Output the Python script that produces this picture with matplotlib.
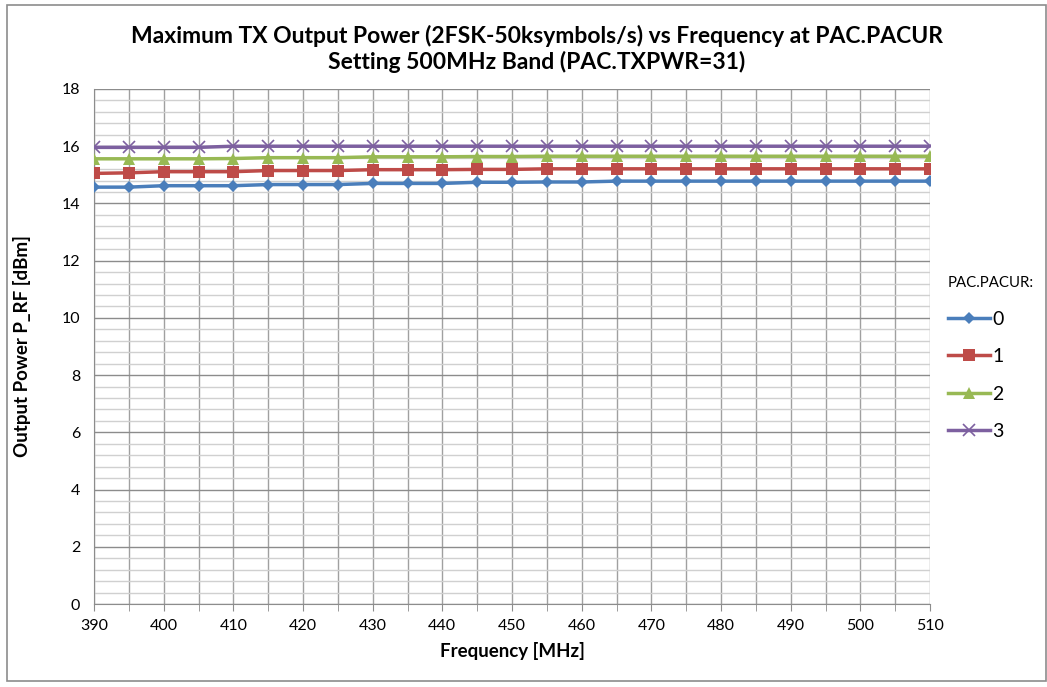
import numpy as np
import matplotlib.pyplot as plt
from matplotlib.patches import Rectangle
from matplotlib.ticker import MultipleLocator

plt.rcParams['font.family'] = ['Lato', 'DejaVu Sans']

freq = list(range(390, 511, 5))

pacur_0 = [14.57, 14.57, 14.62, 14.62, 14.62, 14.66, 14.66, 14.66, 14.70, 14.70,
           14.70, 14.74, 14.74, 14.75, 14.75, 14.78, 14.78, 14.78, 14.78, 14.78,
           14.78, 14.78, 14.78, 14.78, 14.78]
pacur_1 = [15.05, 15.07, 15.11, 15.11, 15.11, 15.15, 15.15, 15.15, 15.18, 15.18,
           15.18, 15.19, 15.19, 15.21, 15.21, 15.21, 15.21, 15.21, 15.21, 15.21,
           15.21, 15.21, 15.21, 15.21, 15.21]
pacur_2 = [15.56, 15.56, 15.56, 15.56, 15.57, 15.60, 15.60, 15.60, 15.63, 15.63,
           15.63, 15.64, 15.64, 15.65, 15.65, 15.65, 15.65, 15.65, 15.65, 15.65,
           15.65, 15.65, 15.65, 15.65, 15.65]
pacur_3 = [15.96, 15.96, 15.96, 15.96, 16.0, 16.0, 16.0, 16.0, 16.0, 16.0,
           16.0, 16.0, 16.0, 16.0, 16.0, 16.0, 16.0, 16.0, 16.0, 16.0,
           16.0, 16.0, 16.0, 16.0, 16.0]

series = [
    ("0", pacur_0, "#4a7ebb", "D", 6),
    ("1", pacur_1, "#be4b48", "s", 9),
    ("2", pacur_2, "#98b954", "^", 9),
    ("3", pacur_3, "#7d60a0", "x", 9),
]

W, H = 1047, 687
fig = plt.figure(figsize=(W / 100, H / 100), dpi=100)
ax = fig.add_axes([94 / W, 1 - 604 / H, (930 - 94) / W, (604 - 89) / H])

# chart area border
fig.patches.append(Rectangle((7 / W, 6 / H), (W - 8) / W, (H - 11) / H,
                             transform=fig.transFigure, fill=False,
                             edgecolor="#8c8c8c", linewidth=1.2))

for name, vals, color, marker, ms in series:
    if marker == "x":
        ax.plot(freq, vals, color=color, linewidth=2.5, marker=marker,
                markersize=ms, markeredgewidth=1.2, label=name, zorder=3)
    else:
        ax.plot(freq, vals, color=color, linewidth=2.5, marker=marker,
                markersize=ms, markeredgewidth=0, label=name, zorder=3)

ax.set_xlim(390, 510)
ax.set_ylim(0, 18)
ax.xaxis.set_major_locator(MultipleLocator(10))
ax.xaxis.set_minor_locator(MultipleLocator(5))
ax.yaxis.set_major_locator(MultipleLocator(2))
ax.yaxis.set_minor_locator(MultipleLocator(0.4))

ax.grid(which="major", axis="y", color="#8c8c8c", linewidth=1.0)
ax.grid(which="minor", axis="y", color="#d0d0d0", linewidth=1.0)
ax.grid(which="both", axis="x", color="#a0a0a0", linewidth=1.0)
ax.set_axisbelow(True)

for side in ["top", "right"]:
    ax.spines[side].set_visible(False)
for side in ["left", "bottom"]:
    ax.spines[side].set_color("#8c8c8c")

ax.tick_params(axis="x", which="both", length=5, color="#8c8c8c",
               labelsize=11.5, pad=6)
ax.tick_params(axis="y", which="major", length=0, labelsize=11.5, pad=10)
ax.tick_params(axis="y", which="minor", length=0)

ax.set_xlabel("Frequency [MHz]", fontsize=13.5, fontweight="bold", labelpad=6)
ax.set_ylabel("Output Power P_RF [dBm]", fontsize=13.5, fontweight="bold",
              labelpad=22)

fig.text(0.5 + 0.013, 1 - 49 / H,
         "Maximum TX Output Power (2FSK-50ksymbols/s) vs Frequency at PAC.PACUR\n"
         "Setting 500MHz Band (PAC.TXPWR=31)",
         ha="center", va="center", fontsize=16.5, fontweight="bold",
         linespacing=1.25)

leg = ax.legend(title="PAC.PACUR:", loc="upper left",
                bbox_to_anchor=(1.0, 0.67), frameon=False, fontsize=14,
                title_fontsize=10.8, handlelength=2.2, labelspacing=1.05,
                handletextpad=0.1)
leg._legend_box.align = "left"

fig.savefig("out.png", dpi=100)
